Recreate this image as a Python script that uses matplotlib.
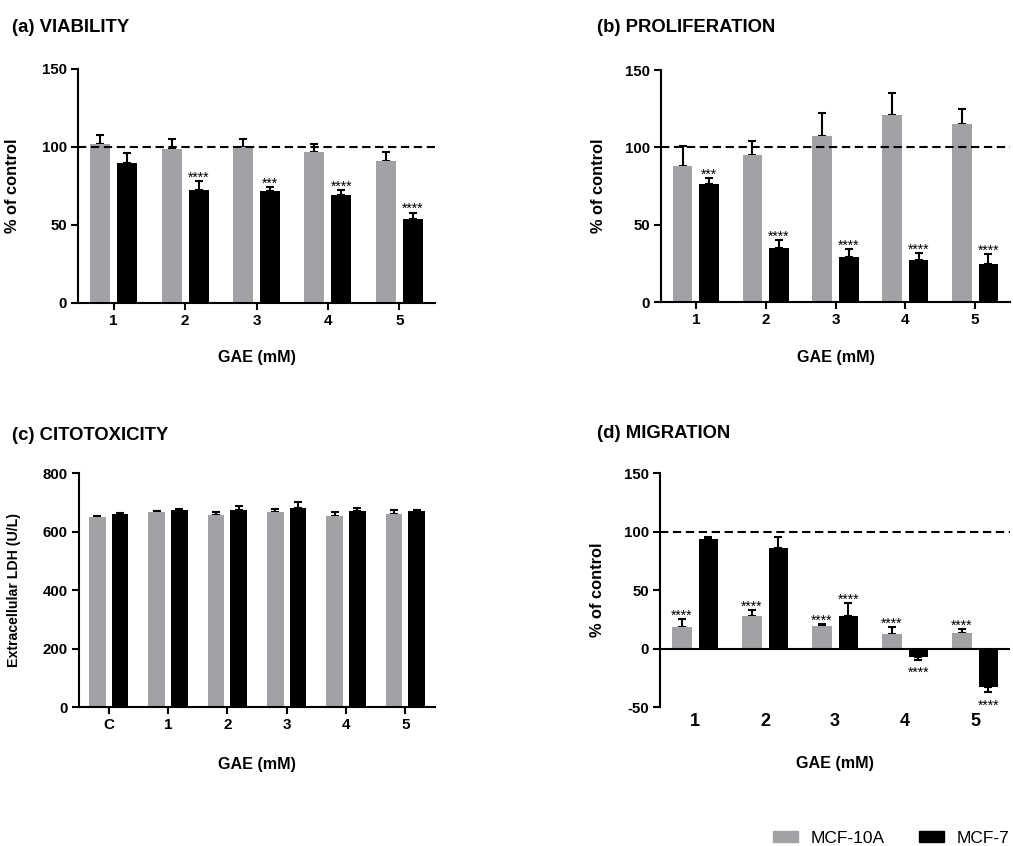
import numpy as np
import matplotlib.pyplot as plt
from matplotlib.patches import Patch

plt.rcParams['font.family'] = ['Liberation Sans', 'DejaVu Sans']
plt.rcParams['font.weight'] = 'bold'
plt.rcParams['axes.labelweight'] = 'bold'
plt.rcParams['axes.unicode_minus'] = False

GRAY = '#A2A1A6'
doses = ['1', '2', '3', '4', '5']

# (a) viability, % of control
via_10a = [102, 99, 100, 97, 91]
via_10a_err = [6, 6, 5, 5, 5.5]
via_7 = [90, 72.5, 72, 69, 54]
via_7_err = [6, 5.5, 2.5, 3.5, 4]
via_7_sig = ['', '****', '***', '****', '****']

# (b) proliferation, % of control
pro_10a = [88, 95, 107.5, 121, 115]
pro_10a_err = [13, 9, 14.5, 14, 10]
pro_7 = [76, 35, 29, 27, 24.5]
pro_7_err = [4, 5, 5.5, 4.5, 6.5]
pro_7_sig = ['***', '****', '****', '****', '****']

# (c) extracellular LDH (U/L)
ldh_labels = ['C', '1', '2', '3', '4', '5']
ldh_10a = [649, 666, 658, 666, 652, 661]
ldh_10a_err = [3, 3, 9, 10, 13, 11]
ldh_7 = [661, 673, 673, 682, 671, 671]
ldh_7_err = [3, 3, 15, 19, 8, 1]

# (d) migration, % of control
mig_10a = [18.5, 27.5, 19, 12.5, 13.5]
mig_10a_err = [7, 5.5, 2, 6, 3]
mig_10a_sig = ['****', '****', '****', '****', '****']
mig_7 = [94, 86, 27.5, -7, -33]
mig_7_err = [1.5, 9.5, 11.5, 2.5, 4.5]
mig_7_sig = ['', '', '****', '****', '****']

W, H = 1013, 846
fig = plt.figure(figsize=(W / 100, H / 100), dpi=100)


def box(l, r, t, b):
    return [l / W, 1 - b / H, (r - l) / W, (b - t) / H]


def bars(ax, labels, va, ea, vb, eb, sa=None, sb=None):
    x = np.arange(len(labels))
    off, w = 0.19, 0.28
    for xs, vals, errs, col, sig in [(x - off, va, ea, GRAY, sa), (x + off, vb, eb, 'black', sb)]:
        ax.bar(xs, vals, w, color=col, zorder=2)
        lo = [e if v < 0 else 0 for v, e in zip(vals, errs)]
        hi = [0 if v < 0 else e for v, e in zip(vals, errs)]
        ax.errorbar(xs, vals, yerr=[lo, hi], fmt='none', ecolor='black',
                    elinewidth=1.5, capsize=2.6, capthick=1.5, zorder=1)
        if sig:
            for xi, v, e, s in zip(xs, vals, errs, sig):
                if not s:
                    continue
                if v >= 0:
                    ax.annotate(s, (xi, v + e), xytext=(0, -0.5), textcoords='offset points',
                                ha='center', va='baseline', fontsize=10, fontweight='normal')
                else:
                    ax.annotate(s, (xi, v - e), xytext=(0, -12.5), textcoords='offset points',
                                ha='center', va='baseline', fontsize=10, fontweight='normal')
    ax.set_xticks(x)
    ax.set_xticklabels(labels)
    ax.set_xlim(-0.5, len(labels) - 0.5)
    for s in ['top', 'right']:
        ax.spines[s].set_visible(False)
    for s in ['left', 'bottom']:
        ax.spines[s].set_linewidth(1.5)
    ax.tick_params(width=1.5, length=5, labelsize=10.8, pad=3)


def labels(ax, ylab, ysize, xl, xlab_y):
    ax.set_ylabel(ylab, fontsize=ysize, fontweight='bold')
    ax.yaxis.set_label_coords(xl, 0.5)
    ax.set_xlabel('GAE (mM)', fontsize=11.6, fontweight='bold')
    ax.xaxis.set_label_coords(0.5, xlab_y)


# (a)
ax = fig.add_axes(box(78, 435, 69, 303))
bars(ax, doses, via_10a, via_10a_err, via_7, via_7_err, None, via_7_sig)
ax.set_ylim(0, 150)
ax.set_yticks([0, 50, 100, 150])
ax.axhline(100, color='black', lw=1.5, dashes=(4, 2.2), zorder=3)
ax.tick_params(axis='x', labelsize=11)
labels(ax, '% of control', 11.8, -0.163, -0.2)

# (b)
ax = fig.add_axes(box(661, 1010, 70, 302))
bars(ax, doses, pro_10a, pro_10a_err, pro_7, pro_7_err, None, pro_7_sig)
ax.set_ylim(0, 150)
ax.set_yticks([0, 50, 100, 150])
ax.axhline(100, color='black', lw=1.5, dashes=(4, 2.2), zorder=3)
ax.tick_params(axis='x', labelsize=11)
labels(ax, '% of control', 11.8, -0.158, -0.205)

# (c)
ax = fig.add_axes(box(79, 435, 473, 707))
bars(ax, ldh_labels, ldh_10a, ldh_10a_err, ldh_7, ldh_7_err)
ax.set_ylim(0, 800)
ax.set_yticks([0, 200, 400, 600, 800])
ax.tick_params(axis='x', labelsize=11)
labels(ax, 'Extracellular LDH (U/L)', 10.2, -0.163, -0.215)

# (d)
ax = fig.add_axes(box(660, 1010, 473, 707))
bars(ax, doses, mig_10a, mig_10a_err, mig_7, mig_7_err, mig_10a_sig, mig_7_sig)
ax.set_ylim(-50, 150)
ax.set_yticks([-50, 0, 50, 100, 150])
ax.spines['bottom'].set_visible(False)
ax.axhline(0, color='black', lw=1.5, zorder=3)
ax.axhline(100, color='black', lw=1.5, dashes=(4, 2.2), zorder=3)
ax.tick_params(axis='x', length=0, labelsize=13, pad=4)
labels(ax, '% of control', 11.8, -0.157, -0.21)

# panel titles
fig.text(12 / W, 1 - 27 / H, '(a) VIABILITY', fontsize=13.3, va='center')
fig.text(597 / W, 1 - 27 / H, '(b) PROLIFERATION', fontsize=13.3, va='center')
fig.text(12 / W, 1 - 435 / H, '(c) CITOTOXICITY', fontsize=13.3, va='center')
fig.text(597 / W, 1 - 434 / H, '(d) MIGRATION', fontsize=13.3, va='center')

handles = [Patch(color=GRAY), Patch(color='black')]
fig.legend(handles, ['MCF-10A', 'MCF-7'], loc='center left',
           bbox_to_anchor=(773 / W, 1 - 838 / H), ncol=2, frameon=False,
           prop={'size': 12.5, 'weight': 'normal'}, handlelength=1.44,
           handleheight=0.63, handletextpad=0.75, columnspacing=1.95,
           borderpad=0, borderaxespad=0)

fig.savefig('out.png', dpi=100)
